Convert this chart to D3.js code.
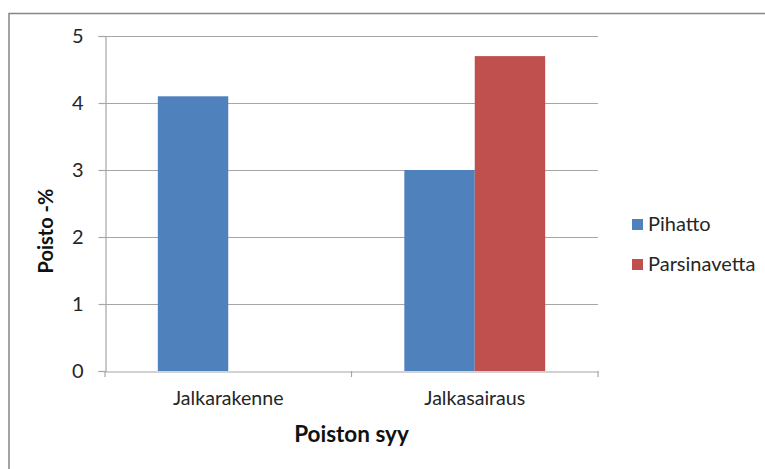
<!DOCTYPE html>
<html>
<head>
<meta charset="utf-8">
<script src="https://cdn.jsdelivr.net/npm/d3@7/dist/d3.min.js"></script>
<style>
  html, body { margin: 0; padding: 0; background: #fff; }
  svg { display: block; font-family: Lato, "Open Sans", sans-serif; }
</style>
</head>
<body>
<svg id="chart" width="765" height="469"></svg>
<script>
// Reasons for culling, by housing type (percent)
const categories = ["Jalkarakenne", "Jalkasairaus"];
const seriesNames = ["Pihatto", "Parsinavetta"];
const pihatto = [4.1, 3.0];
const parsinavetta = [0, 4.7];
const yTicks = [0, 1, 2, 3, 4, 5];
const colors = ["#4F81BD", "#C0504D"];

const seriesValues = [pihatto, parsinavetta];
const textColor = "#262626";
const gridColor = "#A6A6A6";

const svg = d3.select("#chart");
const plot = { left: 105, right: 598, top: 36, bottom: 371 };

// Chart frame (only left and top edges fall within view)
svg.append("path")
  .attr("d", "M9,469 L9,13.5 L765,13.5")
  .attr("fill", "none")
  .attr("stroke", "#868686")
  .attr("stroke-width", 1.5);

const y = d3.scaleLinear().domain([0, 5]).range([plot.bottom, plot.top]);
const catX = d3.scaleBand().domain(categories).range([plot.left, plot.right]).padding(0);
// Grouped bar layout: gap between groups is 150% of a bar width
const bandW = catX.bandwidth();
const barW = bandW / 3.5;
const groupOffset = barW * 0.75;

// Gridlines
svg.append("g").selectAll("line").data(yTicks.filter(t => t > 0)).join("line")
  .attr("x1", plot.left).attr("x2", plot.right)
  .attr("y1", d => Math.round(y(d)) + 0.5).attr("y2", d => Math.round(y(d)) + 0.5)
  .attr("stroke", gridColor).attr("stroke-width", 1.2);

// Bars
const bars = svg.append("g");
categories.forEach((c, ci) => {
  seriesValues.forEach((vals, si) => {
    const v = vals[ci];
    if (v <= 0) return;
    bars.append("rect")
      .attr("x", catX(c) + groupOffset + si * barW)
      .attr("y", y(v))
      .attr("width", barW)
      .attr("height", y(0) - y(v))
      .attr("fill", colors[si]);
  });
});

// Y axis
const yAxis = svg.append("g").attr("transform", `translate(${plot.left + 0.5},0)`)
  .call(d3.axisLeft(y).tickValues(yTicks).tickSize(7).tickPadding(15).tickFormat(d3.format("d")));
yAxis.select(".domain").attr("stroke", gridColor).attr("stroke-width", 1.2);
yAxis.selectAll(".tick line").attr("stroke", gridColor).attr("stroke-width", 1.2);
yAxis.selectAll(".tick text").attr("font-size", 20).attr("fill", textColor).attr("font-family", "Lato, sans-serif");

// X axis
const xAxis = svg.append("g").attr("transform", `translate(0,${plot.bottom + 0.5})`)
  .call(d3.axisBottom(catX).tickSize(0).tickPadding(20));
xAxis.select(".domain").attr("stroke", gridColor).attr("stroke-width", 1.2);
xAxis.selectAll(".tick text").attr("font-size", 19.6).attr("fill", textColor).attr("font-family", "Lato, sans-serif");
// Category boundary tick marks
svg.append("g").selectAll("line")
  .data(categories.map(c => catX(c)).concat([plot.right])).join("line")
  .attr("x1", d => d).attr("x2", d => d)
  .attr("y1", plot.bottom).attr("y2", plot.bottom + 6)
  .attr("stroke", gridColor).attr("stroke-width", 1.2);

// Axis titles
svg.append("text")
  .attr("x", (plot.left + plot.right) / 2).attr("y", 442)
  .attr("text-anchor", "middle").attr("font-size", 22.5).attr("font-weight", "bold")
  .attr("fill", "#111").text("Poiston syy");
svg.append("text")
  .attr("transform", "translate(53,231) rotate(-90)")
  .attr("text-anchor", "middle").attr("font-size", 20).attr("font-weight", "bold")
  .attr("fill", "#111").text("Poisto -%");

// Legend
const legend = svg.append("g").attr("transform", "translate(632,219)");
seriesNames.forEach((name, i) => {
  const g = legend.append("g").attr("transform", `translate(0,${i * 40})`);
  g.append("rect").attr("width", 11).attr("height", 11).attr("fill", colors[i]);
  g.append("text").attr("x", 16).attr("y", 12).attr("font-size", 20)
    .attr("fill", textColor).text(name);
});
</script>
</body>
</html>
